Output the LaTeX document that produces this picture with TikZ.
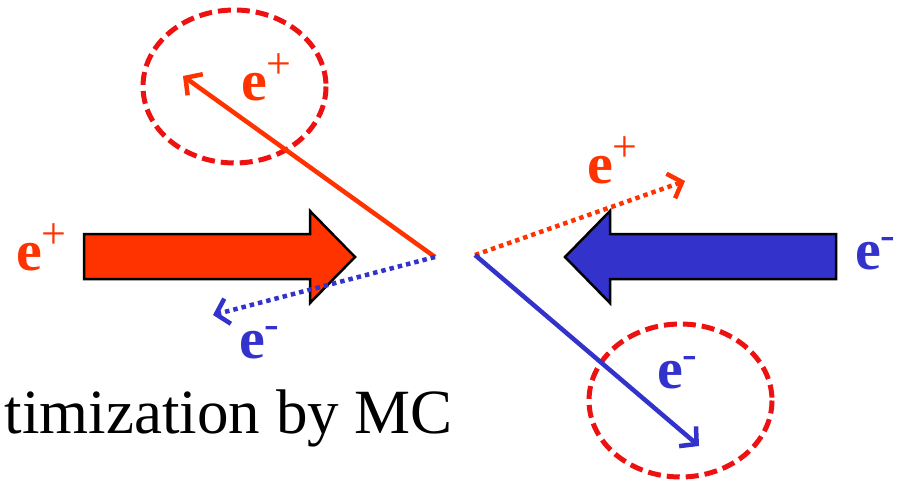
\documentclass[tikz,border=0pt]{standalone}
\usepackage{fontspec}
\setmainfont{Liberation Serif}
\usetikzlibrary{arrows.meta}
\definecolor{posicol}{RGB}{255,51,0}
\definecolor{elecol}{RGB}{51,51,204}
\definecolor{ringcol}{RGB}{238,17,17}
\newcommand{\chsup}[2]{\raisebox{#1}{\fontsize{44}{44}\mdseries\selectfont #2}}
\newcommand{\posi}{e\chsup{22pt}{+}}
\newcommand{\elec}{e\chsup{20pt}{-}}
\tikzset{
  lbl/.style={anchor=base west, inner sep=0pt, font=\fontsize{58}{58}\selectfont\bfseries},
  track/.style={line width=4.5pt, -{Straight Barb[length=12pt,width=26pt]}},
  dotline/.style={dash pattern=on 4.5pt off 4pt},
  ring/.style={ringcol, line width=5pt, dash pattern=on 13pt off 6pt},
  beam/.style={draw=black, line width=2.5pt, line join=miter}
}
\begin{document}
\begin{tikzpicture}[x=1pt,y=-1pt]
  \useasboundingbox (0,0) rectangle (901,481);
  % Beams
  \filldraw[beam, fill=posicol] (84,234) -- (310,234) -- (310,211) -- (355,257)
    -- (310,303) -- (310,279) -- (84,279) -- cycle;
  \filldraw[beam, fill=elecol] (836,234) -- (610,234) -- (610,211) -- (565,257)
    -- (610,303) -- (610,279) -- (836,279) -- cycle;
  % Selection regions
  \draw[ring] (234.5,86.5) ellipse (91.5 and 76.5);
  \draw[ring] (680.5,400.5) ellipse (91.5 and 76.5);
  % Vertices and tracks
  \coordinate (vtxL) at (435,257);
  \coordinate (vtxR) at (475,255);
  \coordinate (posUp) at (183,76);
  \coordinate (eleDn) at (213,315);
  \coordinate (posRt) at (685,181);
  \coordinate (eleLo) at (699,446);
  \draw[track, posicol] (vtxL) -- (posUp);
  \draw[track, elecol, dotline] (vtxL) -- (eleDn);
  \draw[track, posicol, dotline] (vtxR) -- (posRt);
  \draw[track, elecol] (vtxR) -- (eleLo);
  % Labels
  \node[lbl, posicol] (lPosBeam) at (16,270) {\posi};
  \node[lbl, elecol] (lEleBeam) at (855,269) {\elec};
  \node[lbl, posicol] (lPosUp) at (241,101) {\posi};
  \node[lbl, elecol] (lEleDn) at (239,358) {\elec};
  \node[lbl, posicol] (lPosRt) at (587,183) {\posi};
  \node[lbl, elecol] (lEleLo) at (657,388) {\elec};
  \node[anchor=base east, inner sep=0pt, font=\fontsize{63}{63}\selectfont]
    (caption) at (453,433) {timization by MC};
\end{tikzpicture}
\end{document}
